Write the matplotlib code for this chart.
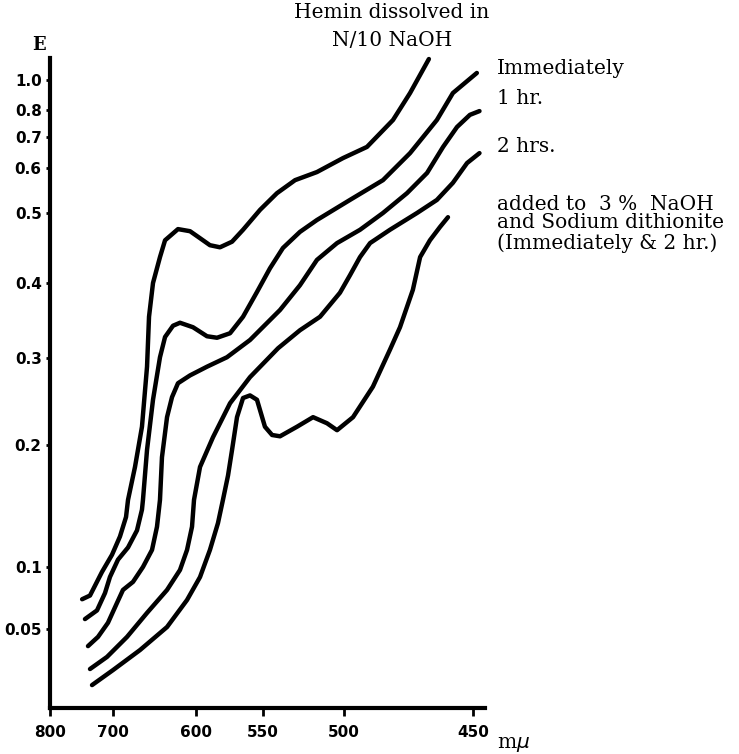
import numpy as np
import matplotlib
matplotlib.use("Agg")
import matplotlib.pyplot as plt

# wavelength (m mu) and extinction E
hemin_nm = [749, 736.5, 717.5, 701.6, 691.6, 684.3, 681.9, 673.5, 665.1, 659.0, 656.6, 651.8,
            643.4, 637.3, 621.7, 607.2, 597.0, 589.6, 582.1, 573.1, 564.9, 552.2, 541.4,
            530.2, 516.7, 500.6, 491.1, 481.0, 474.4, 467.1]
hemin_E = [0.074, 0.077, 0.096, 0.110, 0.125, 0.141, 0.155, 0.182, 0.221, 0.290, 0.355, 0.400,
           0.437, 0.461, 0.477, 0.474, 0.464, 0.454, 0.451, 0.459, 0.476, 0.507, 0.544,
           0.573, 0.591, 0.632, 0.668, 0.763, 0.913, 1.143]

imm_nm = [744.5, 725.4, 712.7, 704.8, 694.0, 681.9, 671.1, 665.1, 663.9, 659.0, 651.8, 643.4,
          637.3, 627.7, 619.3, 603.6, 591.8, 584.3, 574.6, 564.9, 554.5, 545.7, 537.7, 527.2,
          516.7, 497.7, 484.9, 474.4, 464.0, 457.8, 448.4]
imm_E = [0.058, 0.065, 0.079, 0.092, 0.106, 0.116, 0.130, 0.147, 0.155, 0.196, 0.252, 0.301,
         0.328, 0.343, 0.347, 0.341, 0.329, 0.327, 0.333, 0.355, 0.388, 0.421, 0.450, 0.473,
         0.490, 0.529, 0.573, 0.648, 0.763, 0.913, 1.048]

hr1_nm = [739.7, 723.8, 708.0, 695.2, 688.0, 675.9, 663.9, 653.0, 647.0, 643.4, 641.0, 634.9,
          628.9, 621.7, 607.2, 591.8, 576.9, 559.7, 539.5, 527.2, 516.7, 504.3, 493.8, 484.9,
          475.6, 467.8, 461.6, 456.2, 451.2, 447.3]
hr1_E = [0.0435, 0.047, 0.055, 0.071, 0.0815, 0.088, 0.100, 0.114, 0.133, 0.155, 0.190, 0.232,
         0.255, 0.271, 0.280, 0.290, 0.301, 0.324, 0.364, 0.397, 0.433, 0.457, 0.476, 0.500,
         0.544, 0.589, 0.668, 0.737, 0.782, 0.796]

hr2_nm = [736.5, 709.5, 683.1, 659.0, 634.9, 619.3, 610.8, 604.8, 602.4, 597.0, 587.3, 574.6,
          559.7, 540.7, 527.2, 514.8, 502.5, 497.7, 493.8, 489.9, 482.2, 471.7, 464.0, 457.8,
          452.3, 447.3]
hr2_E = [0.0348, 0.0394, 0.047, 0.063, 0.0815, 0.0976, 0.114, 0.133, 0.155, 0.182, 0.209, 0.248,
         0.278, 0.313, 0.337, 0.355, 0.387, 0.411, 0.437, 0.457, 0.476, 0.500, 0.529, 0.567,
         0.616, 0.648]

dith_nm = [733.3, 700.0, 667.5, 634.9, 610.8, 597.0, 589.6, 583.6, 579.9, 576.1, 573.1, 569.4,
           564.9, 559.7, 554.5, 552.2, 548.8, 544.4, 539.5, 529.0, 519.1, 510.5, 504.3, 496.5,
           488.8, 482.2, 478.3, 473.3, 470.5, 466.7, 462.8, 459.7]
dith_E = [0.0287, 0.0344, 0.042, 0.0516, 0.0734, 0.0919, 0.114, 0.136, 0.155, 0.175, 0.196, 0.232,
          0.254, 0.257, 0.252, 0.240, 0.221, 0.2115, 0.210, 0.221, 0.232, 0.225, 0.217, 0.232,
          0.267, 0.311, 0.341, 0.391, 0.437, 0.461, 0.480, 0.494]

e_ticks = [0.05, 0.1, 0.2, 0.3, 0.4, 0.5, 0.6, 0.7, 0.8, 1.0]
e_labels = ["0.05", "0.1", "0.2", "0.3", "0.4", "0.5", "0.6", "0.7", "0.8", "1.0"]
nm_ticks = [800, 700, 600, 550, 500, 450]
nm_labels = ["800", "700", "600", "550", "500", "450"]

# the axes were ruled by hand: where each value sits along the axis (pixels)
e_cal = [0.02, 0.05, 0.1, 0.2, 0.3, 0.4, 0.5, 0.6, 0.7, 0.8, 1.0, 1.15]
e_pos = [0, 79, 141, 263, 350, 425, 495, 540, 571, 598, 628, 650]
nm_cal = [445, 450, 500, 550, 600, 700, 800]
nm_pos = [0, 12, 141, 222, 289, 372, 435]  # measured from the right end


def e_fwd(v):
    return np.interp(v, e_cal, e_pos)


def e_inv(p):
    return np.interp(p, e_pos, e_cal)


def nm_fwd(v):
    return np.interp(v, nm_cal, nm_pos)


def nm_inv(p):
    return np.interp(p, nm_pos, nm_cal)


W, H = 739, 754
fig = plt.figure(figsize=(W / 100, H / 100), dpi=100)
ax = fig.add_axes([50 / W, (H - 708) / H, 435 / W, 650 / H])
ax.set_xscale("function", functions=(nm_fwd, nm_inv))
ax.set_yscale("function", functions=(e_fwd, e_inv))
ax.set_xlim(800, 445)
ax.set_ylim(0.02, 1.15)

lw = 3.2
for xs, ys in [(hemin_nm, hemin_E), (imm_nm, imm_E), (hr1_nm, hr1_E),
               (hr2_nm, hr2_E), (dith_nm, dith_E)]:
    ax.plot(xs, ys, color="black", lw=lw, solid_joinstyle="round",
            solid_capstyle="round", clip_on=False)

for s in ["top", "right"]:
    ax.spines[s].set_visible(False)
for s in ["left", "bottom"]:
    ax.spines[s].set_linewidth(3)

ax.set_yticks(e_ticks)
ax.set_yticklabels(e_labels)
ax.set_xticks(nm_ticks)
ax.set_xticklabels(nm_labels)
ax.yaxis.set_minor_locator(matplotlib.ticker.NullLocator())
ax.xaxis.set_minor_locator(matplotlib.ticker.NullLocator())
ax.tick_params(axis="y", direction="out", length=3, width=2, pad=3,
               labelsize=11)
ax.tick_params(axis="x", direction="out", length=6, width=2, pad=6,
               labelsize=11)
for lab in ax.get_xticklabels() + ax.get_yticklabels():
    lab.set_fontweight("bold")

serif = "DejaVu Serif"
fs = 14.5


def put(x, y, s, ha="left", **kw):
    fig.text(x / W, 1 - y / H, s, ha=ha, va="center", family=serif, **kw)


put(39, 45, "E", ha="center", fontsize=13, fontweight="bold")
put(392, 13, "Hemin dissolved in", ha="center", fontsize=fs)
put(392, 40, "N/10 NaOH", ha="center", fontsize=fs)
put(497, 68, "Immediately", fontsize=fs)
put(497, 98, "1 hr.", fontsize=fs)
put(497, 147, "2 hrs.", fontsize=fs)
put(497, 204, "added to  3 %  NaOH", fontsize=fs)
put(497, 223, "and Sodium dithionite", fontsize=fs)
put(497, 243, "(Immediately & 2 hr.)", fontsize=fs)
put(497, 745, r"m$\mu$", fontsize=fs)

fig.savefig("out.png", dpi=100)
